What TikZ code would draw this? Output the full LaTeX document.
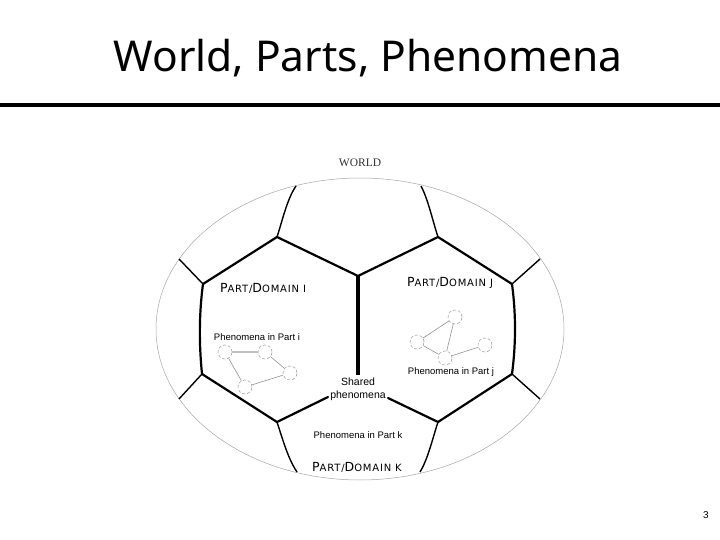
\documentclass[tikz,border=0pt]{standalone}
\usepackage{fontspec}
\setmainfont{Liberation Sans}
\newfontfamily\titlefont{Noto Sans}
\newfontfamily\worldfont{Liberation Serif}
\newfontfamily\domfont[LetterSpace=8]{DejaVu Sans}
\tikzset{
  hexline/.style={line width=2.2pt, black, line cap=round},
  spoke/.style={line width=1.4pt, black},
  phen/.style={circle, draw=gray!80, densely dashed, line width=0.5pt, minimum size=14pt, inner sep=0pt},
  pedge/.style={gray!85, line width=0.6pt},
  lbl/.style={font=\fontsize{9.5}{11}\selectfont, inner sep=0pt},
  dom/.style={inner sep=0pt},
}
\newcommand{\domname}[1]{\domfont{\fontsize{12.5}{13}\selectfont P}{\fontsize{10}{11}\selectfont ART/}{\fontsize{12.5}{13}\selectfont D}{\fontsize{10}{11}\selectfont OMAIN #1}}
\begin{document}
\begin{tikzpicture}[x=1pt,y=-1pt]
\useasboundingbox (0,0) rectangle (720,540);
% title
\node[font=\titlefont\fontsize{42.5}{46}\selectfont, anchor=base] (title) at (368,72) {World, Parts, Phenomena};
\draw[line width=4pt] (0,105) -- (720,105);
\node[font=\fontsize{10}{12}\selectfont] (pg) at (706,515) {3};
% world outline
\draw[gray!70, line width=0.5pt] (360,329) ellipse [x radius=204, y radius=151];
\node[font=\worldfont\fontsize{11.5}{12}\selectfont, text=black!80] (world) at (360,163) {WORLD};
% hexagon vertices
\coordinate (tl) at (277,237);
\coordinate (tr) at (438,237);
\coordinate (y) at (358,276);
\coordinate (lu) at (203,284);
\coordinate (ru) at (512,284);
\coordinate (ll) at (202,374);
\coordinate (rl) at (512,374);
\coordinate (bl) at (277,422);
\coordinate (br) at (438,422);
\coordinate (yb) at (358,375);
\coordinate (bgl) at (328,397);
\coordinate (bgr) at (388,398);
% outer ends (on the outline)
\coordinate (otl) at (296,186);
\coordinate (otr) at (421,186);
\coordinate (olu) at (179,259);
\coordinate (oru) at (540,259);
\coordinate (oll) at (179,399);
\coordinate (orl) at (540,399);
\coordinate (obl) at (297,472);
\coordinate (obr) at (420,472);
% hexagon
\draw[hexline] (lu) -- (tl) -- (y) -- (tr) -- (ru);
\draw[hexline] (lu) .. controls (199,314) and (199,344) .. (ll);
\draw[hexline] (ru) .. controls (516,314) and (516,344) .. (rl);
\draw[hexline] (ll) -- (bl) -- (bgl);
\draw[hexline] (bgr) -- (br) -- (rl);
\draw[line width=4pt] (y) -- (yb);
% spokes
\draw[spoke] (tl) .. controls (282,222) and (287,199) .. (otl);
\draw[spoke] (tr) .. controls (433,222) and (428,199) .. (otr);
\draw[spoke] (lu) -- (olu);
\draw[spoke] (ru) -- (oru);
\draw[spoke] (ll) -- (oll);
\draw[spoke] (rl) -- (orl);
\draw[spoke] (bl) .. controls (282,437) and (288,459) .. (obl);
\draw[spoke] (br) .. controls (433,437) and (428,459) .. (obr);
% labels
\node[dom] (di) at (263,288) {\domname{I}};
\node[dom] (dj) at (450,283) {\domname{J}};
\node[dom] (dk) at (357,467) {\domname{K}};
\node[lbl] (pi) at (257,337) {Phenomena in Part i};
\node[lbl] (pj) at (451,372) {Phenomena in Part j};
\node[lbl] (pk) at (358,435) {Phenomena in Part k};
\node[lbl, align=center, font=\fontsize{10.5}{13}\selectfont] (sh) at (358,389) {Shared\\phenomena};
% graph i
\node[phen] (a1) at (225,352) {};
\node[phen] (a2) at (265,352) {};
\node[phen] (a3) at (290,373) {};
\node[phen] (a4) at (245,387) {};
\draw[gray!50, line width=1.2pt] (a1) -- (a2);
\draw[pedge] (a2) -- (a3);
\draw[pedge] (a3) -- (a4);
\draw[pedge] (a4) -- (a1);
% graph j
\node[phen] (b1) at (455,317) {};
\node[phen] (b2) at (417,342) {};
\node[phen] (b3) at (445,358) {};
\node[phen] (b4) at (485,345) {};
\draw[pedge] (b1) -- (b2);
\draw[pedge] (b1) -- (b3);
\draw[pedge] (b2) -- (b3);
\draw[pedge] (b3) -- (b4);
\end{tikzpicture}
\end{document}
